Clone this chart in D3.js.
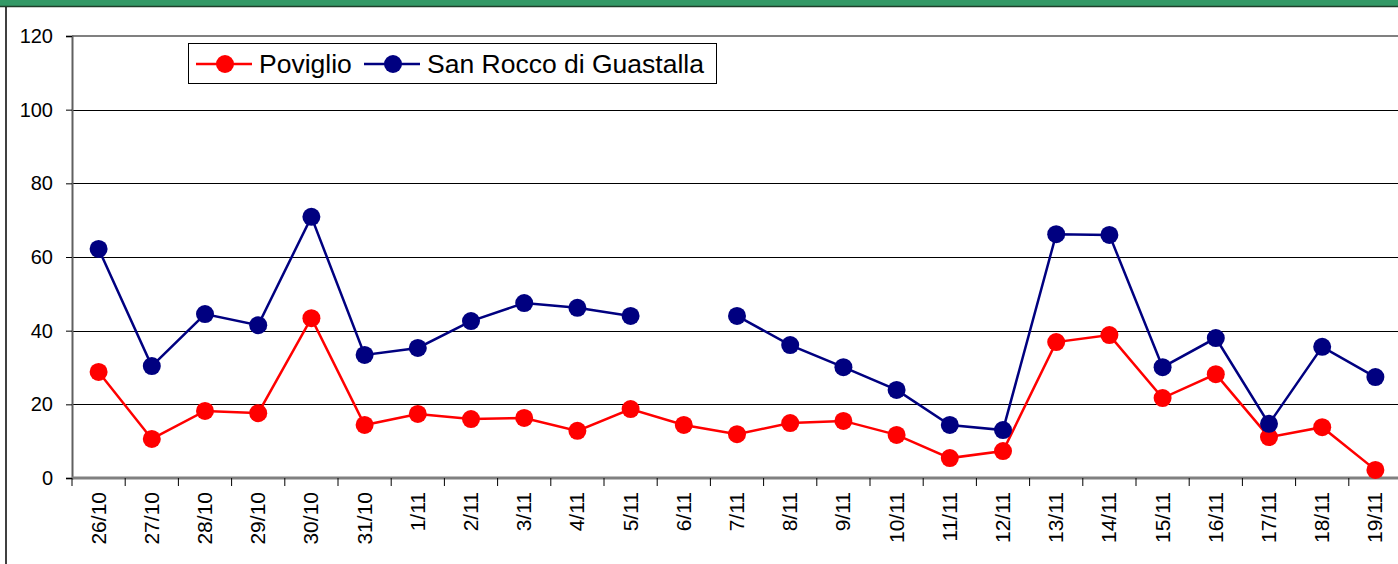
<!DOCTYPE html>
<html>
<head>
<meta charset="utf-8">
<script src="https://cdn.jsdelivr.net/npm/d3@7"></script>
<style>
  body { margin: 0; background: #fff; }
  svg { display: block; font-family: "Liberation Sans", Arial, sans-serif; }
</style>
</head>
<body>
<div id="chart"></div>
<script>
// data
var days = ["26/10","27/10","28/10","29/10","30/10","31/10","1/11","2/11","3/11","4/11",
            "5/11","6/11","7/11","8/11","9/11","10/11","11/11","12/11","13/11","14/11",
            "15/11","16/11","17/11","18/11","19/11"];
var poviglio = [28.8,10.6,18.2,17.6,43.4,14.4,17.4,16.0,16.3,12.8,
                18.7,14.4,11.9,14.9,15.5,11.7,5.4,7.3,36.9,38.8,
                21.7,28.2,11.1,13.8,2.2];
var sanRocco = [62.2,30.4,44.5,41.5,70.9,33.4,35.3,42.6,47.5,46.2,
                44.0,null,44.0,36.1,30.1,23.9,14.4,13.0,66.2,66.0,
                30.1,38.0,14.7,35.6,27.4];
var yTicks = [0,20,40,60,80,100,120];

var seriesList = [
  {name: "Poviglio", values: poviglio, color: "#ff0000"},
  {name: "San Rocco di Guastalla", values: sanRocco, color: "#000080"}
];

var W = 1398, H = 564;
var margin = {top: 36, left: 72};
var plotW = 1330, plotH = 442;

var svg = d3.select("#chart").append("svg")
  .attr("width", W).attr("height", H);

// green title band (title text sits above the visible area)
svg.append("rect").attr("x", 0).attr("y", 0).attr("width", W).attr("height", 6)
  .attr("fill", "#339966");
svg.append("line").attr("x1", 0).attr("x2", W).attr("y1", 6.5).attr("y2", 6.5)
  .attr("stroke", "#1f3f2a").attr("stroke-width", 1.5);
svg.append("line").attr("x1", 6).attr("x2", 6).attr("y1", 7).attr("y2", H)
  .attr("stroke", "#000").attr("stroke-width", 1.5);

var x = d3.scaleBand().domain(days).range([0, plotW]);
var y = d3.scaleLinear().domain([0, 120]).range([plotH, 0]);

var g = svg.append("g")
  .attr("transform", "translate(" + margin.left + "," + margin.top + ")");

// gridlines
g.selectAll(".grid").data(yTicks.filter(function(d) { return d > 0 && d < 120; }))
  .enter().append("line")
  .attr("x1", 0).attr("x2", plotW)
  .attr("y1", function(d) { return Math.round(y(d)) + 0.5; })
  .attr("y2", function(d) { return Math.round(y(d)) + 0.5; })
  .attr("stroke", "#000").attr("stroke-width", 1);

// top border of plot
g.append("line").attr("x1", 0).attr("x2", plotW).attr("y1", 0).attr("y2", 0)
  .attr("stroke", "#808080").attr("stroke-width", 2);

// y axis
var yAxis = g.append("g")
  .call(d3.axisLeft(y).tickValues(yTicks).tickSize(6).tickPadding(13));
yAxis.attr("font-size", null).attr("font-family", null);
yAxis.select(".domain").attr("stroke", "#606060").attr("stroke-width", 2);
yAxis.selectAll(".tick line").attr("stroke", "#000");
yAxis.selectAll(".tick text")
  .style("font-size", "20px").attr("fill", "#000");

// x axis: ticks between categories
var xAxisG = g.append("g").attr("transform", "translate(0," + plotH + ")");
xAxisG.append("line").attr("x1", 0).attr("x2", plotW).attr("y1", 0).attr("y2", 0)
  .attr("stroke", "#808080").attr("stroke-width", 3);
var bounds = days.map(function(d) { return x(d); }).concat([plotW]);
xAxisG.selectAll(".xt").data(bounds).enter().append("line")
  .attr("x1", function(d) { return d; }).attr("x2", function(d) { return d; })
  .attr("y1", 0).attr("y2", 8)
  .attr("stroke", "#000").attr("stroke-width", 1);
xAxisG.selectAll(".xl").data(days).enter().append("text")
  .attr("transform", function(d) {
    return "translate(" + (x(d) + x.bandwidth() / 2 + 7) + ",14) rotate(-90)";
  })
  .attr("text-anchor", "end")
  .style("font-size", "21px")
  .text(function(d) { return d; });

// lines and markers
var line = d3.line()
  .defined(function(d) { return d != null; })
  .x(function(d, i) { return x(days[i]) + x.bandwidth() / 2; })
  .y(function(d) { return y(d); });

seriesList.forEach(function(s) {
  g.append("path").datum(s.values)
    .attr("fill", "none").attr("stroke", s.color).attr("stroke-width", 2.5)
    .attr("d", line);
  g.selectAll(null).data(s.values.map(function(v, i) { return {v: v, i: i}; })
      .filter(function(d) { return d.v != null; }))
    .enter().append("circle")
    .attr("cx", function(d) { return x(days[d.i]) + x.bandwidth() / 2; })
    .attr("cy", function(d) { return y(d.v); })
    .attr("r", 9)
    .attr("fill", s.color);
});

// legend
var leg = svg.append("g").attr("transform", "translate(188,43)");
leg.append("rect").attr("x", 0.5).attr("y", 0.5).attr("width", 528).attr("height", 40)
  .attr("fill", "#fff").attr("stroke", "#000").attr("stroke-width", 1);
var legX = [8, 176];
seriesList.forEach(function(s, i) {
  var lg = leg.append("g").attr("transform", "translate(" + legX[i] + ",21)");
  lg.append("line").attr("x1", 0).attr("x2", 56).attr("y1", 0).attr("y2", 0)
    .attr("stroke", s.color).attr("stroke-width", 2.5);
  lg.append("circle").attr("cx", 29).attr("cy", 0).attr("r", 9).attr("fill", s.color);
  lg.append("text").attr("x", 63).attr("y", 9).style("font-size", "26.5px")
    .text(s.name);
});
</script>
</body>
</html>
